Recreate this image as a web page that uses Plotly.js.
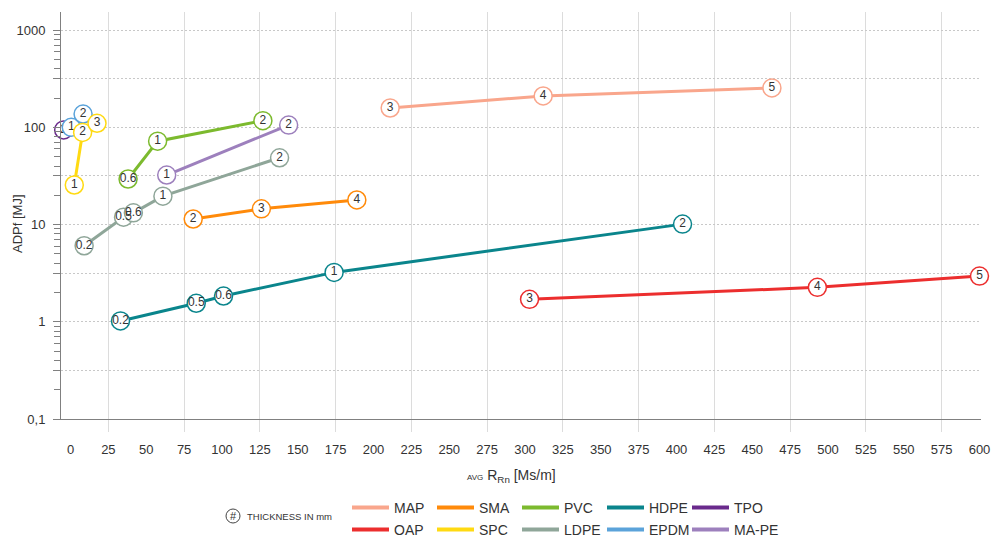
<!DOCTYPE html>
<html><head><meta charset="utf-8">
<script src="https://cdn.plot.ly/plotly-3.0.1.min.js"></script>
<style>html,body{margin:0;padding:0;background:#fff}#chart{width:993px;height:536px}</style>
</head><body><div id="chart"></div>
<script>
// ---- data ----
const mapX = [211, 312, 463];           const mapY = [158, 210, 254];            const mapT = ['3','4','5'];
const oapX = [303, 493, 600];           const oapY = [1.70, 2.26, 2.95];         const oapT = ['3','4','5'];
const hdpeX = [33, 83, 101, 174, 404];  const hdpeY = [1.02, 1.55, 1.84, 3.22, 10.1]; const hdpeT = ['0.2','0.5','0.6','1','2'];
const smaX = [81, 126, 189];            const smaY = [11.4, 14.5, 17.9];         const smaT = ['2','3','4'];
const ldpeX = [9, 35, 41.5, 61, 138];   const ldpeY = [6.05, 11.9, 13.2, 19.6, 48.6]; const ldpeT = ['0.2','0.5','0.6','1','2'];
const pvcX = [38, 57.5, 127];           const pvcY = [29.4, 72, 117];            const pvcT = ['0.6','1','2'];
const mapeX = [63.5, 144];              const mapeY = [32.3, 105.5];             const mapeT = ['1','2'];
const spcX = [2.5, 8, 17.5];            const spcY = [25.5, 88.7, 110];          const spcT = ['1','2','3'];
const epdmX = [0.5, 8.3];               const epdmY = [100, 137];                const epdmT = ['1','2'];
const tpoX = [-4.5];                    const tpoY = [94];                       const tpoT = ['2'];

const legendRow1 = ['MAP','SMA','PVC','HDPE','TPO'];
const legendRow2 = ['OAP','SPC','LDPE','EPDM','MA-PE'];

const xTickStart = 0, xTickStep = 25;
const xGridVals = [25,75,125,175,225,275,325,375,425,475,525,575];
const yTickVals = [0.1, 0.316, 1, 3.16, 10, 31.6, 100, 316, 1000];
const yTickText = ['0,1', ' ', '1', ' ', '10', ' ', '100', ' ', '1000'];
const yMinorVals = [];
[0.1, 1, 10, 100].forEach(d => { [2,4,5,6,7,8,9].forEach(m => yMinorVals.push(d*m)); });

const colors = {
  'MAP':'#F9A68C', 'OAP':'#EC2E2E', 'SMA':'#FF8A0A', 'SPC':'#FFDA12',
  'PVC':'#7CBA2E', 'LDPE':'#8FA699', 'HDPE':'#0A858C', 'EPDM':'#5BA3DA',
  'TPO':'#6A2A8C', 'MA-PE':'#9D80BD'
};

// draw order (later on top)
const series = [
  ['TPO', tpoX, tpoY, tpoT],
  ['EPDM', epdmX, epdmY, epdmT],
  ['SPC', spcX, spcY, spcT],
  ['PVC', pvcX, pvcY, pvcT],
  ['MA-PE', mapeX, mapeY, mapeT],
  ['LDPE', ldpeX, ldpeY, ldpeT],
  ['SMA', smaX, smaY, smaT],
  ['HDPE', hdpeX, hdpeY, hdpeT],
  ['MAP', mapX, mapY, mapT],
  ['OAP', oapX, oapY, oapT]
];

const traces = series.map(([name, x, y, t]) => ({
  type:'scatter', mode:'lines+markers+text', name, x, y, text:t,
  textposition:'middle center',
  textfont:{family:'Liberation Sans, Arial, sans-serif', size:12, color:'#333'},
  line:{color:colors[name], width:3},
  marker:{size:18, color:'#fff', line:{color:colors[name], width:1.5}},
  cliponaxis:false, showlegend:false, hoverinfo:'x+y+name'
}));

function addLegendRow(names, legendId) {
  names.forEach(n => traces.push({type:'scatter', mode:'lines', name:n, x:[null], y:[null],
    line:{color:colors[n], width:4}, legend:legendId, showlegend:true}));
  // invisible spacer so the last entry's label is not clipped
  traces.push({type:'scatter', mode:'lines', name:'\u00a0', x:[null], y:[null],
    line:{color:'rgba(0,0,0,0)', width:0}, legend:legendId, showlegend:true});
}
addLegendRow(legendRow1, 'legend');
addLegendRow(legendRow2, 'legend2');

const L = 61, T = 12, W = 920, H = 407;
const px = v => (v - L) / W;
const py = v => (T + H - v) / H;

const legendCommon = {
  orientation:'h', xanchor:'left', yanchor:'middle', bgcolor:'rgba(0,0,0,0)',
  font:{family:'Liberation Sans, Arial, sans-serif', size:14, color:'#333'},
  entrywidth:33, entrywidthmode:'pixels', itemwidth:37, tracegroupgap:0, itemclick:false, itemdoubleclick:false
};

const layout = {
  width:993, height:536,
  margin:{l:L, r:993-L-W, t:T, b:536-T-H, pad:0, autoexpand:false},
  paper_bgcolor:'#fff', plot_bgcolor:'#fff',
  font:{family:'Liberation Sans, Arial, sans-serif', size:13, color:'#333'},
  showlegend:true,
  xaxis:{
    type:'linear', range:[-6.27, 601], tick0:xTickStart, dtick:xTickStep,
    showgrid:false, zeroline:false, showline:true, linecolor:'#808080', linewidth:1,
    ticks:'', ticklabelstandoff:18, tickfont:{size:13, color:'#333'},
    minor:{tickmode:'array', tickvals:xGridVals, showgrid:true, gridcolor:'#dcdcdc', gridwidth:1,
           ticks:'outside', ticklen:12, tickcolor:'#dcdcdc', tickwidth:1}
  },
  yaxis:{
    type:'log', range:[-1, 3.186], tickmode:'array', tickvals:yTickVals, ticktext:yTickText,
    showgrid:true, gridcolor:'#c8c8c8', griddash:'2px,2px', gridwidth:1,
    zeroline:false, showline:true, linecolor:'#808080', linewidth:1,
    ticks:'outside', ticklen:7, tickcolor:'#808080', tickwidth:1, ticklabelstandoff:5,
    tickfont:{size:13, color:'#333'},
    minor:{tickmode:'array', tickvals:yMinorVals, ticks:'outside', ticklen:6, tickcolor:'#808080', showgrid:false}
  },
  legend:Object.assign({}, legendCommon, {x:px(347), y:py(508)}),
  legend2:Object.assign({}, legendCommon, {x:px(347), y:py(530)}),
  annotations:[
    {xref:'paper', yref:'paper', x:px(17), y:py(224), text:'ADPf [MJ]', textangle:-90, showarrow:false,
     font:{size:13, color:'#333'}, xanchor:'center', yanchor:'middle'},
    {xref:'paper', yref:'paper', x:px(511), y:py(476),
     text:'<span style="font-size:8px">AVG</span> R<sub>Rn</sub> [Ms/m]', showarrow:false,
     font:{size:14, color:'#333'}, xanchor:'center', yanchor:'middle'},
    {xref:'paper', yref:'paper', x:px(233), y:py(516), text:'#', showarrow:false,
     font:{size:11, color:'#333'}, xanchor:'center', yanchor:'middle'},
    {xref:'paper', yref:'paper', x:px(245), y:py(516), text:'THICKNESS IN mm', showarrow:false,
     font:{size:9.5, color:'#333'}, xanchor:'left', yanchor:'middle'}
  ],
  shapes:[
    {type:'circle', xref:'paper', yref:'paper', xsizemode:'pixel', ysizemode:'pixel',
     xanchor:px(233), yanchor:py(516), x0:-7, x1:7, y0:-7, y1:7, line:{color:'#444', width:1}}
  ]
};

Plotly.newPlot('chart', traces, layout, {displayModeBar:false, staticPlot:true});
</script></body></html>
